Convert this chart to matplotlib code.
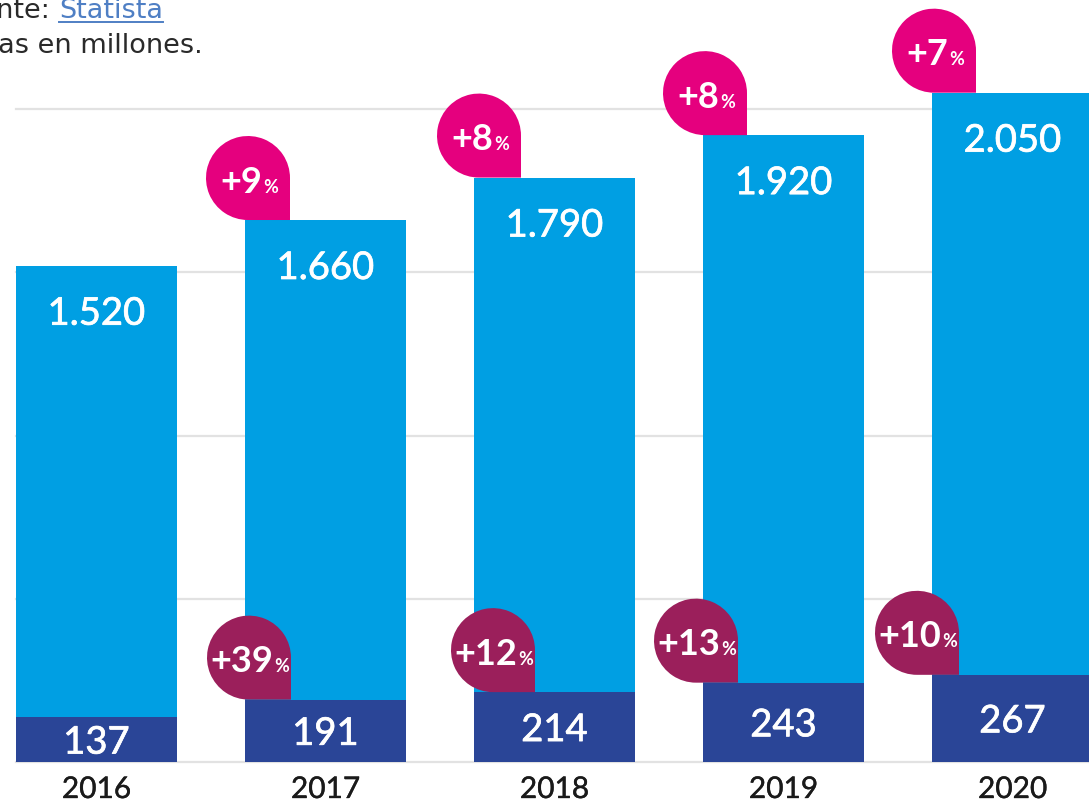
import matplotlib
matplotlib.use("Agg")
import matplotlib.pyplot as plt
import matplotlib.patheffects as pe
import numpy as np
from matplotlib.path import Path
from matplotlib.patches import PathPatch
from matplotlib.transforms import Affine2D, ScaledTranslation
from matplotlib.offsetbox import TextArea, HPacker, AnnotationBbox
from matplotlib.lines import Line2D

# datos
years = ["2016", "2017", "2018", "2019", "2020"]
total_users = [1520, 1660, 1790, 1920, 2050]
sub_users = [137, 191, 214, 243, 267]
total_growth = [None, 9, 8, 8, 7]
sub_growth = [None, 39, 12, 13, 10]
grid_values = [0, 500, 1000, 1500, 2000]

LIGHT = "#009fe3"
DARK = "#2a4597"
PINK = "#e5007e"
WINE = "#9b1f5b"

W, H = 1089, 807
fig = plt.figure(figsize=(W / 100, H / 100), dpi=100)
ax = fig.add_axes([16 / W, 45 / H, 1 - 16 / W, 762 / H])

x = np.arange(len(years))
bw = 161 / 229
ax.set_xlim(-bw / 2, -bw / 2 + (W - 16) / 229)
ax.set_ylim(0, 762 / 0.3265)
ax.axis("off")

for g in grid_values:
    ax.axhline(g, color="#e2e2e2", lw=1.6, zorder=0, clip_on=False)

ax.bar(x, total_users, bw, color=LIGHT, zorder=2)
ax.bar(x, sub_users, bw, color=DARK, zorder=3)


def fmt(v):
    return f"{v:,}".replace(",", ".")


# un poco mas de grosor para imitar Lato Medium
thick = [pe.withStroke(linewidth=0.5, foreground="white")]
num_font = dict(family="Lato", color="white", fontsize=27.5)
for xi, t, s, yr in zip(x, total_users, sub_users, years):
    ax.annotate(fmt(t), (xi, t), xytext=(0, -59), textcoords="offset pixels",
                ha="center", va="baseline", zorder=5, path_effects=thick,
                **num_font)
    ax.annotate(str(s), (xi, s / 2), xytext=(0, -14), textcoords="offset pixels",
                ha="center", va="baseline", zorder=5, path_effects=thick,
                **num_font)
    ax.annotate(yr, (xi, 0), xytext=(0, -36), textcoords="offset pixels",
                ha="center", va="baseline", family="Lato", fontsize=21.5,
                color="#1a1a1a", annotation_clip=False,
                path_effects=[pe.withStroke(linewidth=0.25, foreground="#1a1a1a")])

# forma de gota: circulo con la esquina inferior derecha en punta
R = 42
arc = Path.arc(0, 270)
verts = list(arc.vertices * R + np.array([-R, R]))
codes = list(arc.codes)
verts += [(0, 0), (0, R), (0, R)]
codes += [Path.LINETO, Path.LINETO, Path.CLOSEPOLY]
drop = Path(verts, codes)

pink_dx = [0, 45, 47, 44, 44]
wine_dx = [0, 46, 61, 35, 27]


def badge(xd, yd, dx, value, color):
    tr = Affine2D().translate(dx, 0) + ScaledTranslation(xd, yd, ax.transData)
    ax.add_patch(PathPatch(drop, facecolor=color, edgecolor="none",
                           transform=tr, zorder=6, clip_on=False))
    big = TextArea(f"+{value}", textprops=dict(family="Lato", color="white",
                                               fontsize=26, weight="bold"))
    small = TextArea("%", textprops=dict(family="Lato", color="white",
                                         fontsize=13, weight="bold"))
    box = HPacker(children=[big, small], align="baseline", pad=0, sep=1)
    ab = AnnotationBbox(box, (xd, yd), xybox=(dx - R + 1, R - 4),
                        boxcoords="offset pixels", frameon=False, pad=0,
                        box_alignment=(0.5, 0.5), zorder=7,
                        annotation_clip=False)
    ax.add_artist(ab)


for xi, t, s, tg, sg, pdx, wdx in zip(x, total_users, sub_users, total_growth,
                                     sub_growth, pink_dx, wine_dx):
    left = xi - bw / 2
    if tg is not None:
        badge(left, t, pdx, tg, PINK)
    if sg is not None:
        badge(left, s, wdx, sg, WINE)

# cabecera (recortada por el borde izquierdo, como en el original)
txt = dict(family="DejaVu Sans", fontsize=19.5, color="#2a2a2a", va="baseline")
fig.text(50 / W, 1 - 18 / H, "Fuente:", ha="right", **txt)
src = fig.text(59 / W, 1 - 18 / H, "Statista", ha="left",
               **{**txt, "color": "#4f7fc4"})
fig.text(203 / W, 1 - 53 / H, "Cifras en millones.", ha="right", **txt)

fig.canvas.draw()
bb = src.get_window_extent()
fig.add_artist(Line2D([bb.x0, bb.x1], [H - 21.5, H - 21.5], transform=None,
                      color="#4f7fc4", lw=1.4))

fig.savefig("out.png", dpi=100)
